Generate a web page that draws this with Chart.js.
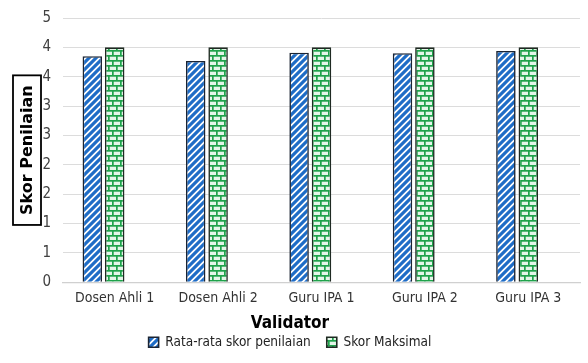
<!DOCTYPE html>
<html>
<head>
<meta charset="utf-8">
<script src="https://cdn.jsdelivr.net/npm/chart.js@4"></script>
<style>
  html, body { margin: 0; padding: 0; background: #fff; }
  #wrap { width: 588px; height: 363px; }
</style>
</head>
<body>
<div id="wrap"><canvas id="c" width="588" height="363"></canvas></div>
<script>
// Validators and their scores
const categories = ['Dosen Ahli 1', 'Dosen Ahli 2', 'Guru IPA 1', 'Guru IPA 2', 'Guru IPA 3'];
const rataRata = [3.85, 3.77, 3.91, 3.90, 3.94];
const skorMaksimal = [4, 4, 4, 4, 4];
const spacer = [null, null, null, null, null];
const yTickLabels = ['0', '1', '1', '2', '2', '3', '3', '4', '4', '5'];

const FONT = '"Liberation Sans Narrow", "DejaVu Sans Condensed", sans-serif';

function stripePattern() {
  const s = 7;
  const cv = document.createElement('canvas');
  cv.width = s; cv.height = s;
  const g = cv.getContext('2d');
  g.fillStyle = '#ffffff';
  g.fillRect(0, 0, s, s);
  g.strokeStyle = '#1e6cc6';
  g.lineWidth = 3.2;
  g.beginPath();
  g.moveTo(-1, s + 1); g.lineTo(s + 1, -1);
  g.moveTo(-2, 2); g.lineTo(2, -2);
  g.moveTo(s - 2, s + 2); g.lineTo(s + 2, s - 2);
  g.stroke();
  return g.createPattern(cv, 'repeat');
}

function brickPattern() {
  const w = 8, h = 10;
  const cv = document.createElement('canvas');
  cv.width = w; cv.height = h;
  const g = cv.getContext('2d');
  g.fillStyle = '#e4f6e9';
  g.fillRect(0, 0, w, h);
  g.fillStyle = '#1fa24b';
  g.fillRect(0, 0, w, 1.7);
  g.fillRect(0, 5, w, 1.7);
  g.fillRect(0, 0, 1.7, 5);
  g.fillRect(4, 5, 1.7, 5);
  return g.createPattern(cv, 'repeat');
}

// Boxed, rotated y-axis title
const boxedYTitle = {
  id: 'boxedYTitle',
  afterDraw(chart) {
    const { ctx, chartArea } = chart;
    const cx = 27;
    const cy = (chartArea.top + chartArea.bottom) / 2;
    ctx.save();
    ctx.translate(cx, cy);
    ctx.rotate(-Math.PI / 2);
    ctx.font = 'bold 16px "DejaVu Sans", sans-serif';
    const text = 'Skor Penilaian';
    const tw = ctx.measureText(text).width;
    const bw = tw + 20, bh = 28;
    ctx.fillStyle = '#ffffff';
    ctx.fillRect(-bw / 2, -bh / 2, bw, bh);
    ctx.strokeStyle = '#000000';
    ctx.lineWidth = 1.8;
    ctx.strokeRect(-bw / 2, -bh / 2, bw, bh);
    ctx.fillStyle = '#000000';
    ctx.textAlign = 'center';
    ctx.textBaseline = 'middle';
    ctx.fillText(text, 0, 1);
    ctx.restore();
  }
};

new Chart(document.getElementById('c'), {
  type: 'bar',
  data: {
    labels: categories,
    datasets: [
      {
        label: 'Rata-rata skor penilaian',
        data: rataRata,
        backgroundColor: stripePattern(),
        borderColor: '#1b2433',
        borderWidth: 1.6
      },
      {
        label: 'Skor Maksimal',
        data: skorMaksimal,
        backgroundColor: brickPattern(),
        borderColor: '#1f2a22',
        borderWidth: 1.6
      },
      {
        label: '',
        data: spacer,
        backgroundColor: 'rgba(0,0,0,0)',
        borderWidth: 0
      }
    ]
  },
  options: {
    responsive: false,
    animation: false,
    layout: { padding: { top: 18, right: 8, left: 0, bottom: 4 } },
    datasets: {
      bar: { categoryPercentage: 0.65, barPercentage: 0.87 }
    },
    scales: {
      x: {
        grid: { display: false, drawTicks: false },
        border: { display: true, color: '#d0d0d0', width: 1.2 },
        ticks: {
          color: '#333333',
          font: { family: FONT, size: 14 },
          padding: 8,
          maxRotation: 0
        }
      },
      y: {
        min: 0,
        max: 4.5,
        afterFit(scale) {
          scale.width = 63;
          scale.paddingTop = 0;
        },
        grid: { color: '#dcdcdc', lineWidth: 1, drawTicks: false },
        border: { display: false },
        ticks: {
          stepSize: 0.5,
          color: '#404040',
          padding: 12,
          font: { family: FONT, size: 15 },
          callback: (v, i) => yTickLabels[i]
        }
      }
    },
    plugins: {
      legend: {
        position: 'bottom',
        labels: {
          filter: item => item.text !== '',
          boxWidth: 10,
          boxHeight: 10,
          padding: 16,
          color: '#222',
          font: { family: FONT, size: 13.5 }
        },
        title: {
          display: true,
          text: 'Validator',
          color: '#000',
          padding: { top: 0, bottom: -16 },
          font: { family: FONT, size: 17, weight: 'bold' }
        }
      },
      tooltip: { enabled: false }
    }
  },
  plugins: [boxedYTitle]
});
</script>
</body>
</html>
